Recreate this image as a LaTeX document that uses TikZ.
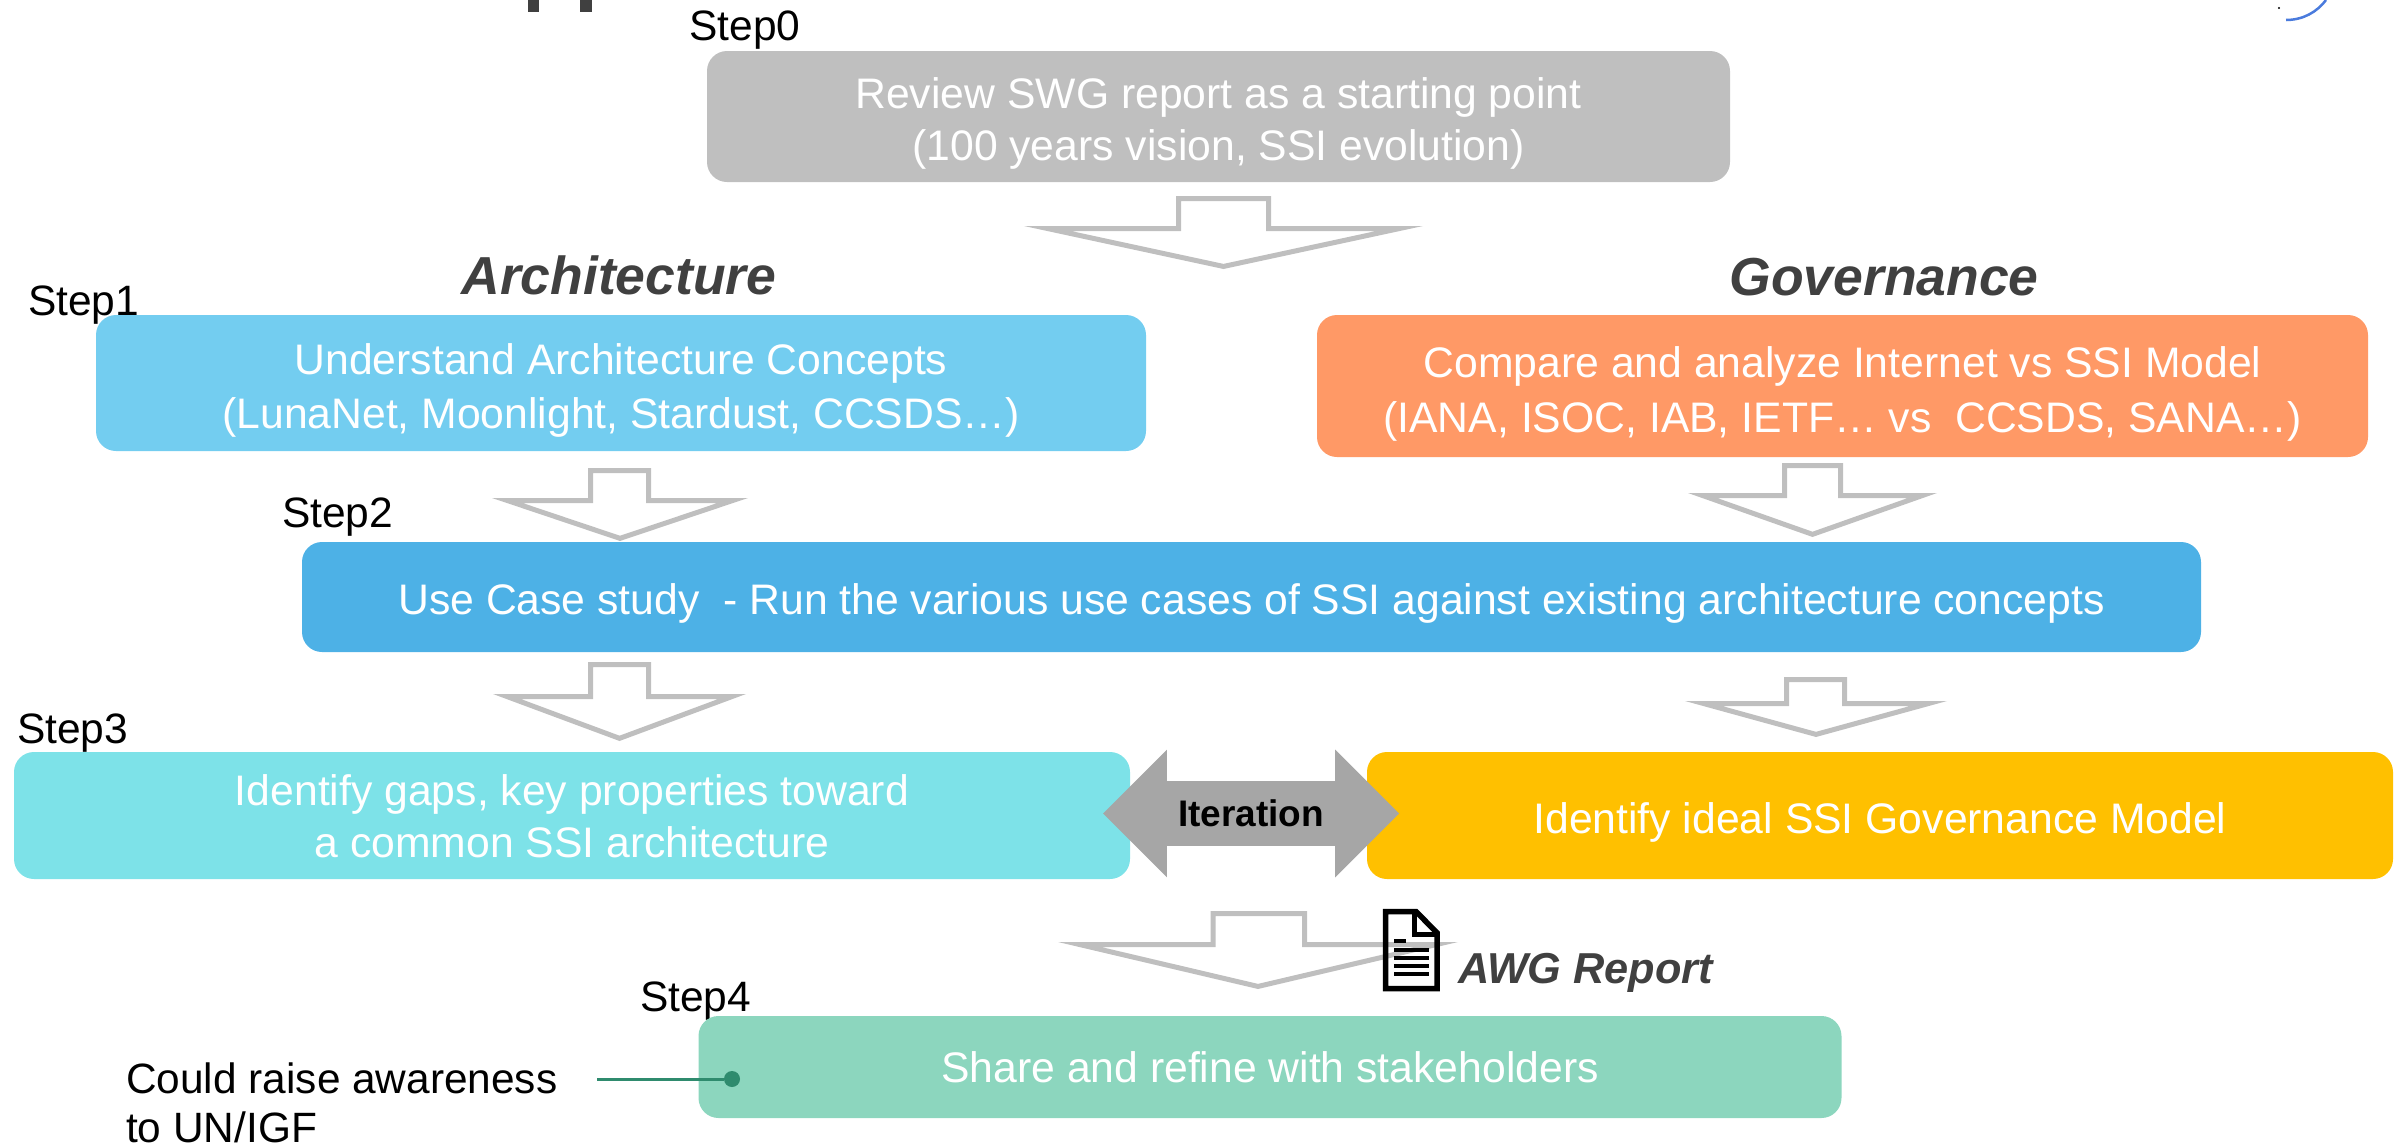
\documentclass[tikz,border=0pt]{standalone}
\usepackage{fontspec}
\setmainfont{Liberation Sans}
\usetikzlibrary{shapes.arrows}
\definecolor{cgrey}{HTML}{BFBFBF}
\definecolor{cline}{HTML}{BFBFBF}
\definecolor{carch}{HTML}{73CDF0}
\definecolor{cgov}{HTML}{FF9966}
\definecolor{cuse}{HTML}{4DB1E6}
\definecolor{cgaps}{HTML}{7DE2E8}
\definecolor{cideal}{HTML}{FFC000}
\definecolor{cshare}{HTML}{8CD6BE}
\definecolor{cdark}{HTML}{404040}
\definecolor{cdot}{HTML}{2F8B6E}
\definecolor{citer}{HTML}{A6A6A6}
\definecolor{cblue}{HTML}{4A7BDD}
\newcommand{\fpx}[2]{\fontsize{#1}{#2}\selectfont}
\newcommand{\lift}[1]{\rule{0pt}{#1pt}}
% hollow block arrow, all numbers are the outer extents: left right top wing bottom shaftL shaftR
\newcommand{\hollowarrow}[7]{%
  \pgfmathsetmacro{\hcx}{(#1+#2)/2}%
  \pgfmathsetmacro{\hhw}{(#2-#1)/2}%
  \pgfmathsetmacro{\hang}{atan((#5-#4)/\hhw)}%
  \pgfmathsetmacro{\hdx}{2.5/tan(\hang/2)}%
  \pgfmathsetmacro{\hby}{#5-2.5/cos(\hang)}%
  \draw[hollow] ({#1+\hdx},#4+2.5) -- (#6+2.5,#4+2.5) -- (#6+2.5,#3+2.5) -- (#7-2.5,#3+2.5)
     -- (#7-2.5,#4+2.5) -- ({#2-\hdx},#4+2.5) -- (\hcx,\hby) -- cycle;%
}
\tikzset{
  box/.style={rounded corners=20pt,inner sep=0pt,text=white,align=center,font=\fpx{42.7}{52}},
  steplabel/.style={anchor=base west,inner sep=0pt,text=black,font=\fpx{42.5}{50}},
  heading/.style={anchor=base,inner sep=0pt,text=cdark,font=\fpx{53.5}{60}\bfseries\itshape},
  hollow/.style={draw=cline,line width=5pt,miter limit=30,line join=miter},
  iterarrow/.style={shape=double arrow,fill=citer,inner xsep=0pt,inner ysep=18.5pt,double arrow head extend=31.5pt,
     shape border rotate=0,minimum height=296pt,double arrow tip angle=90,
     text=black,font=\fpx{37}{44}\bfseries},
  note/.style={anchor=north west,inner sep=0pt,align=left,text=black,font=\fpx{42.4}{49}},
  docline/.style={draw=black,line width=5.5pt,miter limit=10}
}
\begin{document}
\begin{tikzpicture}[x=1pt,y=-1pt]
\useasboundingbox (0,0) rectangle (2402,1146);
% cropped remains at the top edge
\fill[cdark] (527.7,0) rectangle (539.3,12);
\fill[cdark] (579.7,0) rectangle (591.7,12);
\draw[cblue,line width=2.5pt] (2286,20) .. controls (2303,20) and (2317,12) .. (2326,0);
\fill[black] (2279,8) circle (1.2pt);
% labels
\node[steplabel] (s0) at (689,40) {Step0};
\node[steplabel] (s1) at (28,315) {Step1};
\node[steplabel] (s2) at (282,527) {Step2};
\node[steplabel] (s3) at (17,743) {Step3};
\node[steplabel] (s4) at (640,1011) {Step4};
\node[heading] (harch) at (619,294) {Architecture};
\node[heading] (hgov) at (1884,295) {Governance};
% boxes
\node[box,fill=cgrey,minimum width=1023pt,minimum height=131pt] (b0) at (1218.5,116.5) {\lift{44}Review SWG report as a starting point\\(100 years vision, SSI evolution)};
\node[box,fill=carch,minimum width=1050pt,minimum height=136pt,font=\fpx{42.7}{54}] (barch) at (621,383) {\lift{45}Understand Architecture Concepts\\(LunaNet, Moonlight, Stardust, CCSDS…)};
\node[box,fill=cgov,minimum width=1051pt,minimum height=142pt,font=\fpx{42.7}{55}] (bgov) at (1842.5,386) {\lift{46}Compare and analyze Internet vs SSI Model\\(IANA, ISOC, IAB, IETF… vs\ \ CCSDS, SANA…)};
\node[box,fill=cuse,minimum width=1899pt,minimum height=110pt] (buse) at (1251.5,597) {\lift{44}Use Case study\ \ - Run the various use cases of SSI against existing architecture concepts};
\node[box,fill=cgaps,minimum width=1116pt,minimum height=127pt] (bgaps) at (572,815.5) {\lift{33}Identify gaps, key properties toward\\a common SSI architecture};
\node[box,fill=cideal,minimum width=1026pt,minimum height=127pt] (bideal) at (1880,815.5) {\lift{44}Identify ideal SSI Governance Model};
\node[box,fill=cshare,minimum width=1143pt,minimum height=102pt] (bshare) at (1270,1067) {Share and refine with stakeholders};
% hollow arrows
\hollowarrow{1024}{1423}{196}{226}{269}{1176}{1271}
\hollowarrow{492}{748}{468}{498}{541}{588}{651}
\hollowarrow{1688}{1937}{463}{493}{537}{1782}{1843}
\hollowarrow{493}{746}{662}{694}{741}{588}{651}
\hollowarrow{1685}{1947}{677}{701}{737}{1784}{1847}
\hollowarrow{1058}{1458}{911}{942}{989}{1210.5}{1307}
% iteration
\node[iterarrow] (iter) at (1251,813.5) {Iteration};
% document icon
\draw[docline] (1385.7,911.5) -- (1416,911.5) -- (1437.2,933) -- (1437.2,988.5) -- (1385.7,988.5) -- cycle;
\draw[docline] (1414.5,911) -- (1414.5,934.5) -- (1438,934.5);
\fill[black] (1394,939) rectangle (1406,943);
\fill[black] (1394,948) rectangle (1429,951.5);
\fill[black] (1394,956) rectangle (1429,959.5);
\fill[black] (1394,964) rectangle (1429,967.5);
\fill[black] (1394,972) rectangle (1429,976);
\node[anchor=base west,inner sep=0pt,text=cdark,font=\fpx{43.3}{48}\bfseries\itshape] (awg) at (1458,983) {AWG Report};
% note
\node[note] (nt) at (126,1063) {Could raise awareness\\to UN/IGF};
\coordinate (nfree) at (597,1079);
\node[circle,fill=cdot,inner sep=0pt,minimum size=16pt] (ndot) at (732,1079) {};
\draw[cdot,line width=3pt] (nfree) -- (ndot);
\end{tikzpicture}
\end{document}
